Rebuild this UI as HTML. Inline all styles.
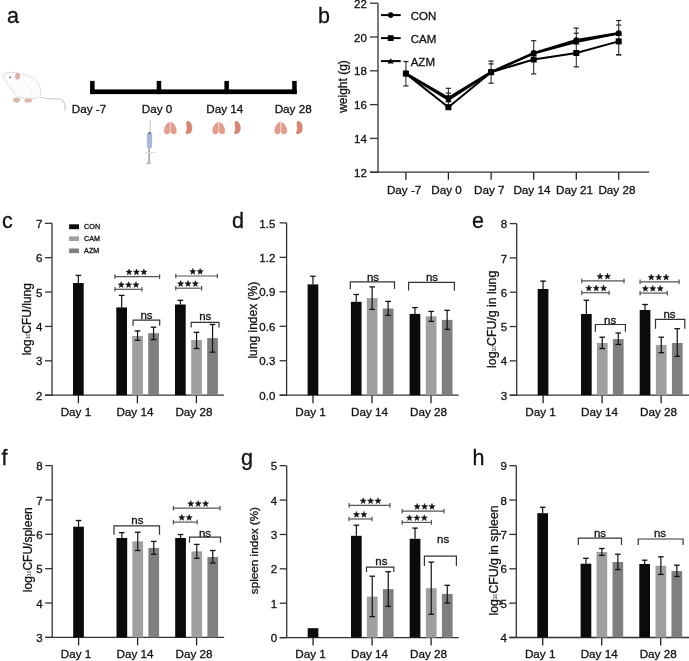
<!DOCTYPE html>
<html><head><meta charset="utf-8"><style>
html,body{margin:0;padding:0;background:#fff;overflow:hidden;width:689px;height:661px;}
svg{display:block;font-family:"Liberation Sans", sans-serif;will-change:transform;} text{fill:#111;stroke:#111;stroke-width:0.3px;paint-order:stroke;}
</style></head><body>
<svg width="689" height="661" viewBox="0 0 689 661">
<rect width="689" height="661" fill="#fff"/>
<text x="2.00" y="227.50" font-size="21.5" text-anchor="start" fill="#000" >c</text>
<line x1="52.00" y1="223.30" x2="52.00" y2="395.70" stroke="#333" stroke-width="1.3" />
<line x1="45.00" y1="395.20" x2="224.00" y2="395.20" stroke="#333" stroke-width="1.3" />
<line x1="45.00" y1="223.30" x2="52.00" y2="223.30" stroke="#333" stroke-width="1.3" />
<text x="42.50" y="227.90" font-size="11.5" text-anchor="end" fill="#222" >7</text>
<line x1="45.00" y1="257.68" x2="52.00" y2="257.68" stroke="#333" stroke-width="1.3" />
<text x="42.50" y="262.28" font-size="11.5" text-anchor="end" fill="#222" >6</text>
<line x1="45.00" y1="292.06" x2="52.00" y2="292.06" stroke="#333" stroke-width="1.3" />
<text x="42.50" y="296.66" font-size="11.5" text-anchor="end" fill="#222" >5</text>
<line x1="45.00" y1="326.44" x2="52.00" y2="326.44" stroke="#333" stroke-width="1.3" />
<text x="42.50" y="331.04" font-size="11.5" text-anchor="end" fill="#222" >4</text>
<line x1="45.00" y1="360.82" x2="52.00" y2="360.82" stroke="#333" stroke-width="1.3" />
<text x="42.50" y="365.42" font-size="11.5" text-anchor="end" fill="#222" >3</text>
<line x1="45.00" y1="395.20" x2="52.00" y2="395.20" stroke="#333" stroke-width="1.3" />
<text x="42.50" y="399.80" font-size="11.5" text-anchor="end" fill="#222" >2</text>
<line x1="78.40" y1="395.20" x2="78.40" y2="403.20" stroke="#222" stroke-width="1.3" />
<text x="75.90" y="416.00" font-size="11.7" text-anchor="middle" fill="#222" >Day 1</text>
<line x1="137.40" y1="395.20" x2="137.40" y2="403.20" stroke="#222" stroke-width="1.3" />
<text x="134.90" y="416.00" font-size="11.7" text-anchor="middle" fill="#222" >Day 14</text>
<line x1="196.40" y1="395.20" x2="196.40" y2="403.20" stroke="#222" stroke-width="1.3" />
<text x="193.90" y="416.00" font-size="11.7" text-anchor="middle" fill="#222" >Day 28</text>
<rect x="73.00" y="283.00" width="10.70" height="112.20" fill="#0b0b0b"/>
<line x1="78.35" y1="275.40" x2="78.35" y2="283.00" stroke="#111" stroke-width="1.2" />
<line x1="75.55" y1="275.40" x2="81.15" y2="275.40" stroke="#111" stroke-width="1.3" />
<rect x="116.30" y="307.40" width="10.70" height="87.80" fill="#0b0b0b"/>
<line x1="121.65" y1="295.40" x2="121.65" y2="307.40" stroke="#111" stroke-width="1.2" />
<line x1="118.85" y1="295.40" x2="124.45" y2="295.40" stroke="#111" stroke-width="1.3" />
<rect x="132.20" y="336.00" width="10.70" height="59.20" fill="#9f9f9f"/>
<line x1="137.55" y1="330.90" x2="137.55" y2="340.30" stroke="#111" stroke-width="1.2" />
<line x1="134.75" y1="330.90" x2="140.35" y2="330.90" stroke="#111" stroke-width="1.3" />
<line x1="134.75" y1="340.30" x2="140.35" y2="340.30" stroke="#111" stroke-width="1.3" />
<rect x="148.20" y="333.20" width="10.70" height="62.00" fill="#7f7f7f"/>
<line x1="153.55" y1="327.20" x2="153.55" y2="339.60" stroke="#111" stroke-width="1.2" />
<line x1="150.75" y1="327.20" x2="156.35" y2="327.20" stroke="#111" stroke-width="1.3" />
<line x1="150.75" y1="339.60" x2="156.35" y2="339.60" stroke="#111" stroke-width="1.3" />
<rect x="175.00" y="304.50" width="10.70" height="90.70" fill="#0b0b0b"/>
<line x1="180.35" y1="300.30" x2="180.35" y2="304.50" stroke="#111" stroke-width="1.2" />
<line x1="177.55" y1="300.30" x2="183.15" y2="300.30" stroke="#111" stroke-width="1.3" />
<rect x="191.20" y="340.00" width="10.70" height="55.20" fill="#9f9f9f"/>
<line x1="196.55" y1="332.30" x2="196.55" y2="348.50" stroke="#111" stroke-width="1.2" />
<line x1="193.75" y1="332.30" x2="199.35" y2="332.30" stroke="#111" stroke-width="1.3" />
<line x1="193.75" y1="348.50" x2="199.35" y2="348.50" stroke="#111" stroke-width="1.3" />
<rect x="207.20" y="338.10" width="10.70" height="57.10" fill="#7f7f7f"/>
<line x1="212.55" y1="324.50" x2="212.55" y2="352.10" stroke="#111" stroke-width="1.2" />
<line x1="209.75" y1="324.50" x2="215.35" y2="324.50" stroke="#111" stroke-width="1.3" />
<line x1="209.75" y1="352.10" x2="215.35" y2="352.10" stroke="#111" stroke-width="1.3" />
<text x="0" y="0" font-size="12" text-anchor="middle" fill="#222" transform="translate(31.00,319.20) rotate(-90)">log<tspan font-size="5" dy="-0.6" style="stroke-width:0">10</tspan><tspan dy="0.6">CFU/lung</tspan></text>
<line x1="114.50" y1="276.60" x2="160.10" y2="276.60" stroke="#555" stroke-width="1.2" />
<line x1="115.00" y1="274.30" x2="115.00" y2="278.90" stroke="#555" stroke-width="1.2" />
<line x1="159.60" y1="274.30" x2="159.60" y2="278.90" stroke="#555" stroke-width="1.2" />
<polygon points="129.10,269.00 129.89,271.11 132.14,271.21 130.38,272.62 130.98,274.79 129.10,273.55 127.22,274.79 127.82,272.62 126.06,271.21 128.31,271.11" fill="#111" stroke="#111" stroke-width="0.5" stroke-linejoin="round"/>
<polygon points="136.50,269.00 137.29,271.11 139.54,271.21 137.78,272.62 138.38,274.79 136.50,273.55 134.62,274.79 135.22,272.62 133.46,271.21 135.71,271.11" fill="#111" stroke="#111" stroke-width="0.5" stroke-linejoin="round"/>
<polygon points="143.90,269.00 144.69,271.11 146.94,271.21 145.18,272.62 145.78,274.79 143.90,273.55 142.02,274.79 142.62,272.62 140.86,271.21 143.11,271.11" fill="#111" stroke="#111" stroke-width="0.5" stroke-linejoin="round"/>
<line x1="114.50" y1="289.30" x2="142.40" y2="289.30" stroke="#555" stroke-width="1.2" />
<line x1="115.00" y1="287.00" x2="115.00" y2="291.60" stroke="#555" stroke-width="1.2" />
<line x1="141.90" y1="287.00" x2="141.90" y2="291.60" stroke="#555" stroke-width="1.2" />
<polygon points="121.20,281.70 121.99,283.81 124.24,283.91 122.48,285.32 123.08,287.49 121.20,286.25 119.32,287.49 119.92,285.32 118.16,283.91 120.41,283.81" fill="#111" stroke="#111" stroke-width="0.5" stroke-linejoin="round"/>
<polygon points="128.60,281.70 129.39,283.81 131.64,283.91 129.88,285.32 130.48,287.49 128.60,286.25 126.72,287.49 127.32,285.32 125.56,283.91 127.81,283.81" fill="#111" stroke="#111" stroke-width="0.5" stroke-linejoin="round"/>
<polygon points="136.00,281.70 136.79,283.81 139.04,283.91 137.28,285.32 137.88,287.49 136.00,286.25 134.12,287.49 134.72,285.32 132.96,283.91 135.21,283.81" fill="#111" stroke="#111" stroke-width="0.5" stroke-linejoin="round"/>
<path d="M133.10,325.80 V320.10 H159.70 V325.80" fill="none" stroke="#333" stroke-width="1.2"/>
<text x="146.50" y="318.50" font-size="11.5" text-anchor="middle" fill="#222" >ns</text>
<line x1="175.30" y1="276.00" x2="217.80" y2="276.00" stroke="#555" stroke-width="1.2" />
<line x1="175.80" y1="273.70" x2="175.80" y2="278.30" stroke="#555" stroke-width="1.2" />
<line x1="217.30" y1="273.70" x2="217.30" y2="278.30" stroke="#555" stroke-width="1.2" />
<polygon points="192.80,268.40 193.59,270.51 195.84,270.61 194.08,272.02 194.68,274.19 192.80,272.95 190.92,274.19 191.52,272.02 189.76,270.61 192.01,270.51" fill="#111" stroke="#111" stroke-width="0.5" stroke-linejoin="round"/>
<polygon points="200.20,268.40 200.99,270.51 203.24,270.61 201.48,272.02 202.08,274.19 200.20,272.95 198.32,274.19 198.92,272.02 197.16,270.61 199.41,270.51" fill="#111" stroke="#111" stroke-width="0.5" stroke-linejoin="round"/>
<line x1="175.30" y1="288.20" x2="202.10" y2="288.20" stroke="#555" stroke-width="1.2" />
<line x1="175.80" y1="285.90" x2="175.80" y2="290.50" stroke="#555" stroke-width="1.2" />
<line x1="201.60" y1="285.90" x2="201.60" y2="290.50" stroke="#555" stroke-width="1.2" />
<polygon points="180.60,280.60 181.39,282.71 183.64,282.81 181.88,284.22 182.48,286.39 180.60,285.15 178.72,286.39 179.32,284.22 177.56,282.81 179.81,282.71" fill="#111" stroke="#111" stroke-width="0.5" stroke-linejoin="round"/>
<polygon points="188.00,280.60 188.79,282.71 191.04,282.81 189.28,284.22 189.88,286.39 188.00,285.15 186.12,286.39 186.72,284.22 184.96,282.81 187.21,282.71" fill="#111" stroke="#111" stroke-width="0.5" stroke-linejoin="round"/>
<polygon points="195.40,280.60 196.19,282.71 198.44,282.81 196.68,284.22 197.28,286.39 195.40,285.15 193.52,286.39 194.12,284.22 192.36,282.81 194.61,282.71" fill="#111" stroke="#111" stroke-width="0.5" stroke-linejoin="round"/>
<path d="M191.20,327.60 V322.30 H219.00 V327.60" fill="none" stroke="#333" stroke-width="1.2"/>
<text x="205.30" y="320.30" font-size="11.5" text-anchor="middle" fill="#222" >ns</text>
<rect x="69.10" y="224.30" width="9.90" height="4.90" fill="#0b0b0b"/>
<text x="84.10" y="229.40" font-size="7.2" text-anchor="start" fill="#222" >CON</text>
<rect x="69.10" y="236.40" width="9.90" height="4.60" fill="#9f9f9f"/>
<text x="84.10" y="241.40" font-size="7.2" text-anchor="start" fill="#222" >CAM</text>
<rect x="69.10" y="248.50" width="9.90" height="4.60" fill="#7f7f7f"/>
<text x="84.10" y="253.30" font-size="7.2" text-anchor="start" fill="#222" >AZM</text>
<text x="232.00" y="227.70" font-size="21.5" text-anchor="start" fill="#000" >d</text>
<line x1="286.60" y1="222.90" x2="286.60" y2="395.70" stroke="#333" stroke-width="1.3" />
<line x1="279.60" y1="395.20" x2="458.60" y2="395.20" stroke="#333" stroke-width="1.3" />
<line x1="279.60" y1="222.90" x2="286.60" y2="222.90" stroke="#333" stroke-width="1.3" />
<text x="275.30" y="227.50" font-size="11.5" text-anchor="end" fill="#222" >1.5</text>
<line x1="279.60" y1="257.36" x2="286.60" y2="257.36" stroke="#333" stroke-width="1.3" />
<text x="275.30" y="261.96" font-size="11.5" text-anchor="end" fill="#222" >1.2</text>
<line x1="279.60" y1="291.82" x2="286.60" y2="291.82" stroke="#333" stroke-width="1.3" />
<text x="275.30" y="296.42" font-size="11.5" text-anchor="end" fill="#222" >0.9</text>
<line x1="279.60" y1="326.28" x2="286.60" y2="326.28" stroke="#333" stroke-width="1.3" />
<text x="275.30" y="330.88" font-size="11.5" text-anchor="end" fill="#222" >0.6</text>
<line x1="279.60" y1="360.74" x2="286.60" y2="360.74" stroke="#333" stroke-width="1.3" />
<text x="275.30" y="365.34" font-size="11.5" text-anchor="end" fill="#222" >0.3</text>
<line x1="279.60" y1="395.20" x2="286.60" y2="395.20" stroke="#333" stroke-width="1.3" />
<text x="275.30" y="399.80" font-size="11.5" text-anchor="end" fill="#222" >0.0</text>
<line x1="313.00" y1="395.20" x2="313.00" y2="403.20" stroke="#222" stroke-width="1.3" />
<text x="310.50" y="416.00" font-size="11.7" text-anchor="middle" fill="#222" >Day 1</text>
<line x1="372.00" y1="395.20" x2="372.00" y2="403.20" stroke="#222" stroke-width="1.3" />
<text x="369.50" y="416.00" font-size="11.7" text-anchor="middle" fill="#222" >Day 14</text>
<line x1="431.00" y1="395.20" x2="431.00" y2="403.20" stroke="#222" stroke-width="1.3" />
<text x="428.50" y="416.00" font-size="11.7" text-anchor="middle" fill="#222" >Day 28</text>
<rect x="307.60" y="284.40" width="10.70" height="110.80" fill="#0b0b0b"/>
<line x1="312.95" y1="276.30" x2="312.95" y2="284.40" stroke="#111" stroke-width="1.2" />
<line x1="310.15" y1="276.30" x2="315.75" y2="276.30" stroke="#111" stroke-width="1.3" />
<rect x="350.90" y="301.80" width="10.70" height="93.40" fill="#0b0b0b"/>
<line x1="356.25" y1="294.50" x2="356.25" y2="301.80" stroke="#111" stroke-width="1.2" />
<line x1="353.45" y1="294.50" x2="359.05" y2="294.50" stroke="#111" stroke-width="1.3" />
<rect x="366.80" y="298.10" width="10.70" height="97.10" fill="#9f9f9f"/>
<line x1="372.15" y1="286.90" x2="372.15" y2="309.40" stroke="#111" stroke-width="1.2" />
<line x1="369.35" y1="286.90" x2="374.95" y2="286.90" stroke="#111" stroke-width="1.3" />
<line x1="369.35" y1="309.40" x2="374.95" y2="309.40" stroke="#111" stroke-width="1.3" />
<rect x="382.80" y="308.50" width="10.70" height="86.70" fill="#7f7f7f"/>
<line x1="388.15" y1="301.40" x2="388.15" y2="315.40" stroke="#111" stroke-width="1.2" />
<line x1="385.35" y1="301.40" x2="390.95" y2="301.40" stroke="#111" stroke-width="1.3" />
<line x1="385.35" y1="315.40" x2="390.95" y2="315.40" stroke="#111" stroke-width="1.3" />
<rect x="409.60" y="313.90" width="10.70" height="81.30" fill="#0b0b0b"/>
<line x1="414.95" y1="307.60" x2="414.95" y2="313.90" stroke="#111" stroke-width="1.2" />
<line x1="412.15" y1="307.60" x2="417.75" y2="307.60" stroke="#111" stroke-width="1.3" />
<rect x="425.80" y="316.30" width="10.70" height="78.90" fill="#9f9f9f"/>
<line x1="431.15" y1="311.40" x2="431.15" y2="321.40" stroke="#111" stroke-width="1.2" />
<line x1="428.35" y1="311.40" x2="433.95" y2="311.40" stroke="#111" stroke-width="1.3" />
<line x1="428.35" y1="321.40" x2="433.95" y2="321.40" stroke="#111" stroke-width="1.3" />
<rect x="441.80" y="319.90" width="10.70" height="75.30" fill="#7f7f7f"/>
<line x1="447.15" y1="310.30" x2="447.15" y2="329.40" stroke="#111" stroke-width="1.2" />
<line x1="444.35" y1="310.30" x2="449.95" y2="310.30" stroke="#111" stroke-width="1.3" />
<line x1="444.35" y1="329.40" x2="449.95" y2="329.40" stroke="#111" stroke-width="1.3" />
<text x="0" y="0" font-size="12" text-anchor="middle" fill="#222" transform="translate(257.00,320.20) rotate(-90)">lung index (%)</text>
<path d="M350.30,289.00 V281.80 H394.50 V289.00" fill="none" stroke="#333" stroke-width="1.2"/>
<text x="373.00" y="280.90" font-size="11.5" text-anchor="middle" fill="#222" >ns</text>
<path d="M408.60,290.50 V282.30 H454.40 V290.50" fill="none" stroke="#333" stroke-width="1.2"/>
<text x="432.00" y="280.90" font-size="11.5" text-anchor="middle" fill="#222" >ns</text>
<text x="472.00" y="227.50" font-size="21.5" text-anchor="start" fill="#000" >e</text>
<line x1="516.70" y1="223.60" x2="516.70" y2="395.70" stroke="#333" stroke-width="1.3" />
<line x1="509.70" y1="395.20" x2="689.00" y2="395.20" stroke="#333" stroke-width="1.3" />
<line x1="509.70" y1="223.60" x2="516.70" y2="223.60" stroke="#333" stroke-width="1.3" />
<text x="507.20" y="228.20" font-size="11.5" text-anchor="end" fill="#222" >8</text>
<line x1="509.70" y1="257.92" x2="516.70" y2="257.92" stroke="#333" stroke-width="1.3" />
<text x="507.20" y="262.52" font-size="11.5" text-anchor="end" fill="#222" >7</text>
<line x1="509.70" y1="292.24" x2="516.70" y2="292.24" stroke="#333" stroke-width="1.3" />
<text x="507.20" y="296.84" font-size="11.5" text-anchor="end" fill="#222" >6</text>
<line x1="509.70" y1="326.56" x2="516.70" y2="326.56" stroke="#333" stroke-width="1.3" />
<text x="507.20" y="331.16" font-size="11.5" text-anchor="end" fill="#222" >5</text>
<line x1="509.70" y1="360.88" x2="516.70" y2="360.88" stroke="#333" stroke-width="1.3" />
<text x="507.20" y="365.48" font-size="11.5" text-anchor="end" fill="#222" >4</text>
<line x1="509.70" y1="395.20" x2="516.70" y2="395.20" stroke="#333" stroke-width="1.3" />
<text x="507.20" y="399.80" font-size="11.5" text-anchor="end" fill="#222" >3</text>
<line x1="543.10" y1="395.20" x2="543.10" y2="403.20" stroke="#222" stroke-width="1.3" />
<text x="540.60" y="416.00" font-size="11.7" text-anchor="middle" fill="#222" >Day 1</text>
<line x1="602.10" y1="395.20" x2="602.10" y2="403.20" stroke="#222" stroke-width="1.3" />
<text x="599.60" y="416.00" font-size="11.7" text-anchor="middle" fill="#222" >Day 14</text>
<line x1="661.10" y1="395.20" x2="661.10" y2="403.20" stroke="#222" stroke-width="1.3" />
<text x="658.60" y="416.00" font-size="11.7" text-anchor="middle" fill="#222" >Day 28</text>
<rect x="537.70" y="289.00" width="10.70" height="106.20" fill="#0b0b0b"/>
<line x1="543.05" y1="281.10" x2="543.05" y2="289.00" stroke="#111" stroke-width="1.2" />
<line x1="540.25" y1="281.10" x2="545.85" y2="281.10" stroke="#111" stroke-width="1.3" />
<rect x="581.00" y="314.00" width="10.70" height="81.20" fill="#0b0b0b"/>
<line x1="586.35" y1="300.30" x2="586.35" y2="314.00" stroke="#111" stroke-width="1.2" />
<line x1="583.55" y1="300.30" x2="589.15" y2="300.30" stroke="#111" stroke-width="1.3" />
<rect x="596.90" y="343.00" width="10.70" height="52.20" fill="#9f9f9f"/>
<line x1="602.25" y1="337.20" x2="602.25" y2="348.50" stroke="#111" stroke-width="1.2" />
<line x1="599.45" y1="337.20" x2="605.05" y2="337.20" stroke="#111" stroke-width="1.3" />
<line x1="599.45" y1="348.50" x2="605.05" y2="348.50" stroke="#111" stroke-width="1.3" />
<rect x="612.90" y="339.10" width="10.70" height="56.10" fill="#7f7f7f"/>
<line x1="618.25" y1="333.00" x2="618.25" y2="344.50" stroke="#111" stroke-width="1.2" />
<line x1="615.45" y1="333.00" x2="621.05" y2="333.00" stroke="#111" stroke-width="1.3" />
<line x1="615.45" y1="344.50" x2="621.05" y2="344.50" stroke="#111" stroke-width="1.3" />
<rect x="639.70" y="310.00" width="10.70" height="85.20" fill="#0b0b0b"/>
<line x1="645.05" y1="304.50" x2="645.05" y2="310.00" stroke="#111" stroke-width="1.2" />
<line x1="642.25" y1="304.50" x2="647.85" y2="304.50" stroke="#111" stroke-width="1.3" />
<rect x="655.90" y="344.90" width="10.70" height="50.30" fill="#9f9f9f"/>
<line x1="661.25" y1="337.20" x2="661.25" y2="352.70" stroke="#111" stroke-width="1.2" />
<line x1="658.45" y1="337.20" x2="664.05" y2="337.20" stroke="#111" stroke-width="1.3" />
<line x1="658.45" y1="352.70" x2="664.05" y2="352.70" stroke="#111" stroke-width="1.3" />
<rect x="671.90" y="343.00" width="10.70" height="52.20" fill="#7f7f7f"/>
<line x1="677.25" y1="328.70" x2="677.25" y2="356.30" stroke="#111" stroke-width="1.2" />
<line x1="674.45" y1="328.70" x2="680.05" y2="328.70" stroke="#111" stroke-width="1.3" />
<line x1="674.45" y1="356.30" x2="680.05" y2="356.30" stroke="#111" stroke-width="1.3" />
<text x="0" y="0" font-size="12.3" text-anchor="middle" fill="#222" transform="translate(496.30,319.30) rotate(-90)">log<tspan font-size="5" dy="-0.6" style="stroke-width:0">10</tspan><tspan dy="0.6">CFU/g in lung</tspan></text>
<line x1="581.30" y1="280.90" x2="624.50" y2="280.90" stroke="#555" stroke-width="1.2" />
<line x1="581.80" y1="278.60" x2="581.80" y2="283.20" stroke="#555" stroke-width="1.2" />
<line x1="624.00" y1="278.60" x2="624.00" y2="283.20" stroke="#555" stroke-width="1.2" />
<polygon points="600.10,273.30 600.89,275.41 603.14,275.51 601.38,276.92 601.98,279.09 600.10,277.85 598.22,279.09 598.82,276.92 597.06,275.51 599.31,275.41" fill="#111" stroke="#111" stroke-width="0.5" stroke-linejoin="round"/>
<polygon points="607.50,273.30 608.29,275.41 610.54,275.51 608.78,276.92 609.38,279.09 607.50,277.85 605.62,279.09 606.22,276.92 604.46,275.51 606.71,275.41" fill="#111" stroke="#111" stroke-width="0.5" stroke-linejoin="round"/>
<line x1="581.30" y1="292.70" x2="609.60" y2="292.70" stroke="#555" stroke-width="1.2" />
<line x1="581.80" y1="290.40" x2="581.80" y2="295.00" stroke="#555" stroke-width="1.2" />
<line x1="609.10" y1="290.40" x2="609.10" y2="295.00" stroke="#555" stroke-width="1.2" />
<polygon points="588.80,285.10 589.59,287.21 591.84,287.31 590.08,288.72 590.68,290.89 588.80,289.65 586.92,290.89 587.52,288.72 585.76,287.31 588.01,287.21" fill="#111" stroke="#111" stroke-width="0.5" stroke-linejoin="round"/>
<polygon points="596.20,285.10 596.99,287.21 599.24,287.31 597.48,288.72 598.08,290.89 596.20,289.65 594.32,290.89 594.92,288.72 593.16,287.31 595.41,287.21" fill="#111" stroke="#111" stroke-width="0.5" stroke-linejoin="round"/>
<polygon points="603.60,285.10 604.39,287.21 606.64,287.31 604.88,288.72 605.48,290.89 603.60,289.65 601.72,290.89 602.32,288.72 600.56,287.31 602.81,287.21" fill="#111" stroke="#111" stroke-width="0.5" stroke-linejoin="round"/>
<path d="M595.40,331.80 V324.50 H625.40 V331.80" fill="none" stroke="#333" stroke-width="1.2"/>
<text x="610.20" y="323.60" font-size="11.5" text-anchor="middle" fill="#222" >ns</text>
<line x1="639.60" y1="281.80" x2="679.60" y2="281.80" stroke="#555" stroke-width="1.2" />
<line x1="640.10" y1="279.50" x2="640.10" y2="284.10" stroke="#555" stroke-width="1.2" />
<line x1="679.10" y1="279.50" x2="679.10" y2="284.10" stroke="#555" stroke-width="1.2" />
<polygon points="651.30,274.20 652.09,276.31 654.34,276.41 652.58,277.82 653.18,279.99 651.30,278.75 649.42,279.99 650.02,277.82 648.26,276.41 650.51,276.31" fill="#111" stroke="#111" stroke-width="0.5" stroke-linejoin="round"/>
<polygon points="658.70,274.20 659.49,276.31 661.74,276.41 659.98,277.82 660.58,279.99 658.70,278.75 656.82,279.99 657.42,277.82 655.66,276.41 657.91,276.31" fill="#111" stroke="#111" stroke-width="0.5" stroke-linejoin="round"/>
<polygon points="666.10,274.20 666.89,276.31 669.14,276.41 667.38,277.82 667.98,279.99 666.10,278.75 664.22,279.99 664.82,277.82 663.06,276.41 665.31,276.31" fill="#111" stroke="#111" stroke-width="0.5" stroke-linejoin="round"/>
<line x1="639.60" y1="293.10" x2="667.80" y2="293.10" stroke="#555" stroke-width="1.2" />
<line x1="640.10" y1="290.80" x2="640.10" y2="295.40" stroke="#555" stroke-width="1.2" />
<line x1="667.30" y1="290.80" x2="667.30" y2="295.40" stroke="#555" stroke-width="1.2" />
<polygon points="645.40,285.50 646.19,287.61 648.44,287.71 646.68,289.12 647.28,291.29 645.40,290.05 643.52,291.29 644.12,289.12 642.36,287.71 644.61,287.61" fill="#111" stroke="#111" stroke-width="0.5" stroke-linejoin="round"/>
<polygon points="652.80,285.50 653.59,287.61 655.84,287.71 654.08,289.12 654.68,291.29 652.80,290.05 650.92,291.29 651.52,289.12 649.76,287.71 652.01,287.61" fill="#111" stroke="#111" stroke-width="0.5" stroke-linejoin="round"/>
<polygon points="660.20,285.50 660.99,287.61 663.24,287.71 661.48,289.12 662.08,291.29 660.20,290.05 658.32,291.29 658.92,289.12 657.16,287.71 659.41,287.61" fill="#111" stroke="#111" stroke-width="0.5" stroke-linejoin="round"/>
<path d="M655.50,328.70 V319.40 H684.80 V328.70" fill="none" stroke="#333" stroke-width="1.2"/>
<text x="669.50" y="317.80" font-size="11.5" text-anchor="middle" fill="#222" >ns</text>
<text x="1.50" y="464.70" font-size="21.5" text-anchor="start" fill="#000" >f</text>
<line x1="52.20" y1="465.60" x2="52.20" y2="637.90" stroke="#333" stroke-width="1.3" />
<line x1="45.20" y1="637.40" x2="224.20" y2="637.40" stroke="#333" stroke-width="1.3" />
<line x1="45.20" y1="465.60" x2="52.20" y2="465.60" stroke="#333" stroke-width="1.3" />
<text x="42.70" y="470.20" font-size="11.5" text-anchor="end" fill="#222" >8</text>
<line x1="45.20" y1="499.96" x2="52.20" y2="499.96" stroke="#333" stroke-width="1.3" />
<text x="42.70" y="504.56" font-size="11.5" text-anchor="end" fill="#222" >7</text>
<line x1="45.20" y1="534.32" x2="52.20" y2="534.32" stroke="#333" stroke-width="1.3" />
<text x="42.70" y="538.92" font-size="11.5" text-anchor="end" fill="#222" >6</text>
<line x1="45.20" y1="568.68" x2="52.20" y2="568.68" stroke="#333" stroke-width="1.3" />
<text x="42.70" y="573.28" font-size="11.5" text-anchor="end" fill="#222" >5</text>
<line x1="45.20" y1="603.04" x2="52.20" y2="603.04" stroke="#333" stroke-width="1.3" />
<text x="42.70" y="607.64" font-size="11.5" text-anchor="end" fill="#222" >4</text>
<line x1="45.20" y1="637.40" x2="52.20" y2="637.40" stroke="#333" stroke-width="1.3" />
<text x="42.70" y="642.00" font-size="11.5" text-anchor="end" fill="#222" >3</text>
<line x1="78.60" y1="637.40" x2="78.60" y2="645.40" stroke="#222" stroke-width="1.3" />
<text x="76.10" y="658.20" font-size="11.7" text-anchor="middle" fill="#222" >Day 1</text>
<line x1="137.60" y1="637.40" x2="137.60" y2="645.40" stroke="#222" stroke-width="1.3" />
<text x="135.10" y="658.20" font-size="11.7" text-anchor="middle" fill="#222" >Day 14</text>
<line x1="196.60" y1="637.40" x2="196.60" y2="645.40" stroke="#222" stroke-width="1.3" />
<text x="194.10" y="658.20" font-size="11.7" text-anchor="middle" fill="#222" >Day 28</text>
<rect x="73.20" y="526.70" width="10.70" height="110.70" fill="#0b0b0b"/>
<line x1="78.55" y1="520.50" x2="78.55" y2="526.70" stroke="#111" stroke-width="1.2" />
<line x1="75.75" y1="520.50" x2="81.35" y2="520.50" stroke="#111" stroke-width="1.3" />
<rect x="116.50" y="538.00" width="10.70" height="99.40" fill="#0b0b0b"/>
<line x1="121.85" y1="532.60" x2="121.85" y2="538.00" stroke="#111" stroke-width="1.2" />
<line x1="119.05" y1="532.60" x2="124.65" y2="532.60" stroke="#111" stroke-width="1.3" />
<rect x="132.40" y="541.30" width="10.70" height="96.10" fill="#9f9f9f"/>
<line x1="137.75" y1="532.20" x2="137.75" y2="550.50" stroke="#111" stroke-width="1.2" />
<line x1="134.95" y1="532.20" x2="140.55" y2="532.20" stroke="#111" stroke-width="1.3" />
<line x1="134.95" y1="550.50" x2="140.55" y2="550.50" stroke="#111" stroke-width="1.3" />
<rect x="148.40" y="547.90" width="10.70" height="89.50" fill="#7f7f7f"/>
<line x1="153.75" y1="541.40" x2="153.75" y2="554.30" stroke="#111" stroke-width="1.2" />
<line x1="150.95" y1="541.40" x2="156.55" y2="541.40" stroke="#111" stroke-width="1.3" />
<line x1="150.95" y1="554.30" x2="156.55" y2="554.30" stroke="#111" stroke-width="1.3" />
<rect x="175.20" y="538.00" width="10.70" height="99.40" fill="#0b0b0b"/>
<line x1="180.55" y1="534.50" x2="180.55" y2="538.00" stroke="#111" stroke-width="1.2" />
<line x1="177.75" y1="534.50" x2="183.35" y2="534.50" stroke="#111" stroke-width="1.3" />
<rect x="191.40" y="551.40" width="10.70" height="86.00" fill="#9f9f9f"/>
<line x1="196.75" y1="544.40" x2="196.75" y2="558.30" stroke="#111" stroke-width="1.2" />
<line x1="193.95" y1="544.40" x2="199.55" y2="544.40" stroke="#111" stroke-width="1.3" />
<line x1="193.95" y1="558.30" x2="199.55" y2="558.30" stroke="#111" stroke-width="1.3" />
<rect x="207.40" y="557.00" width="10.70" height="80.40" fill="#7f7f7f"/>
<line x1="212.75" y1="550.50" x2="212.75" y2="563.00" stroke="#111" stroke-width="1.2" />
<line x1="209.95" y1="550.50" x2="215.55" y2="550.50" stroke="#111" stroke-width="1.3" />
<line x1="209.95" y1="563.00" x2="215.55" y2="563.00" stroke="#111" stroke-width="1.3" />
<text x="0" y="0" font-size="12" text-anchor="middle" fill="#222" transform="translate(31.50,549.70) rotate(-90)">log<tspan font-size="5" dy="-0.6" style="stroke-width:0">10</tspan><tspan dy="0.6">CFU/spleen</tspan></text>
<path d="M114.00,534.80 V525.80 H159.50 V534.80" fill="none" stroke="#333" stroke-width="1.2"/>
<text x="137.40" y="523.50" font-size="11.5" text-anchor="middle" fill="#222" >ns</text>
<line x1="172.90" y1="508.20" x2="220.50" y2="508.20" stroke="#555" stroke-width="1.2" />
<line x1="173.40" y1="505.90" x2="173.40" y2="510.50" stroke="#555" stroke-width="1.2" />
<line x1="220.00" y1="505.90" x2="220.00" y2="510.50" stroke="#555" stroke-width="1.2" />
<polygon points="190.80,500.60 191.59,502.71 193.84,502.81 192.08,504.22 192.68,506.39 190.80,505.15 188.92,506.39 189.52,504.22 187.76,502.81 190.01,502.71" fill="#111" stroke="#111" stroke-width="0.5" stroke-linejoin="round"/>
<polygon points="198.20,500.60 198.99,502.71 201.24,502.81 199.48,504.22 200.08,506.39 198.20,505.15 196.32,506.39 196.92,504.22 195.16,502.81 197.41,502.71" fill="#111" stroke="#111" stroke-width="0.5" stroke-linejoin="round"/>
<polygon points="205.60,500.60 206.39,502.71 208.64,502.81 206.88,504.22 207.48,506.39 205.60,505.15 203.72,506.39 204.32,504.22 202.56,502.81 204.81,502.71" fill="#111" stroke="#111" stroke-width="0.5" stroke-linejoin="round"/>
<line x1="172.90" y1="522.10" x2="197.60" y2="522.10" stroke="#555" stroke-width="1.2" />
<line x1="173.40" y1="519.80" x2="173.40" y2="524.40" stroke="#555" stroke-width="1.2" />
<line x1="197.10" y1="519.80" x2="197.10" y2="524.40" stroke="#555" stroke-width="1.2" />
<polygon points="181.80,514.50 182.59,516.61 184.84,516.71 183.08,518.12 183.68,520.29 181.80,519.05 179.92,520.29 180.52,518.12 178.76,516.71 181.01,516.61" fill="#111" stroke="#111" stroke-width="0.5" stroke-linejoin="round"/>
<polygon points="189.20,514.50 189.99,516.61 192.24,516.71 190.48,518.12 191.08,520.29 189.20,519.05 187.32,520.29 187.92,518.12 186.16,516.71 188.41,516.61" fill="#111" stroke="#111" stroke-width="0.5" stroke-linejoin="round"/>
<path d="M189.50,542.70 V537.10 H220.50 V542.70" fill="none" stroke="#333" stroke-width="1.2"/>
<text x="205.00" y="536.60" font-size="11.5" text-anchor="middle" fill="#222" >ns</text>
<text x="241.00" y="464.70" font-size="21.5" text-anchor="start" fill="#000" >g</text>
<line x1="286.70" y1="465.70" x2="286.70" y2="638.10" stroke="#333" stroke-width="1.3" />
<line x1="279.70" y1="637.60" x2="458.70" y2="637.60" stroke="#333" stroke-width="1.3" />
<line x1="279.70" y1="465.70" x2="286.70" y2="465.70" stroke="#333" stroke-width="1.3" />
<text x="277.20" y="470.30" font-size="11.5" text-anchor="end" fill="#222" >5</text>
<line x1="279.70" y1="500.08" x2="286.70" y2="500.08" stroke="#333" stroke-width="1.3" />
<text x="277.20" y="504.68" font-size="11.5" text-anchor="end" fill="#222" >4</text>
<line x1="279.70" y1="534.46" x2="286.70" y2="534.46" stroke="#333" stroke-width="1.3" />
<text x="277.20" y="539.06" font-size="11.5" text-anchor="end" fill="#222" >3</text>
<line x1="279.70" y1="568.84" x2="286.70" y2="568.84" stroke="#333" stroke-width="1.3" />
<text x="277.20" y="573.44" font-size="11.5" text-anchor="end" fill="#222" >2</text>
<line x1="279.70" y1="603.22" x2="286.70" y2="603.22" stroke="#333" stroke-width="1.3" />
<text x="277.20" y="607.82" font-size="11.5" text-anchor="end" fill="#222" >1</text>
<line x1="279.70" y1="637.60" x2="286.70" y2="637.60" stroke="#333" stroke-width="1.3" />
<text x="277.20" y="642.20" font-size="11.5" text-anchor="end" fill="#222" >0</text>
<line x1="313.10" y1="637.60" x2="313.10" y2="645.60" stroke="#222" stroke-width="1.3" />
<text x="310.60" y="658.40" font-size="11.7" text-anchor="middle" fill="#222" >Day 1</text>
<line x1="372.10" y1="637.60" x2="372.10" y2="645.60" stroke="#222" stroke-width="1.3" />
<text x="369.60" y="658.40" font-size="11.7" text-anchor="middle" fill="#222" >Day 14</text>
<line x1="431.10" y1="637.60" x2="431.10" y2="645.60" stroke="#222" stroke-width="1.3" />
<text x="428.60" y="658.40" font-size="11.7" text-anchor="middle" fill="#222" >Day 28</text>
<rect x="307.70" y="628.20" width="10.70" height="9.40" fill="#0b0b0b"/>
<rect x="351.00" y="535.80" width="10.70" height="101.80" fill="#0b0b0b"/>
<line x1="356.35" y1="525.20" x2="356.35" y2="535.80" stroke="#111" stroke-width="1.2" />
<line x1="353.55" y1="525.20" x2="359.15" y2="525.20" stroke="#111" stroke-width="1.3" />
<rect x="366.90" y="596.60" width="10.70" height="41.00" fill="#9f9f9f"/>
<line x1="372.25" y1="576.20" x2="372.25" y2="616.60" stroke="#111" stroke-width="1.2" />
<line x1="369.45" y1="576.20" x2="375.05" y2="576.20" stroke="#111" stroke-width="1.3" />
<line x1="369.45" y1="616.60" x2="375.05" y2="616.60" stroke="#111" stroke-width="1.3" />
<rect x="382.90" y="589.10" width="10.70" height="48.50" fill="#7f7f7f"/>
<line x1="388.25" y1="571.70" x2="388.25" y2="606.40" stroke="#111" stroke-width="1.2" />
<line x1="385.45" y1="571.70" x2="391.05" y2="571.70" stroke="#111" stroke-width="1.3" />
<line x1="385.45" y1="606.40" x2="391.05" y2="606.40" stroke="#111" stroke-width="1.3" />
<rect x="409.70" y="538.80" width="10.70" height="98.80" fill="#0b0b0b"/>
<line x1="415.05" y1="528.10" x2="415.05" y2="538.80" stroke="#111" stroke-width="1.2" />
<line x1="412.25" y1="528.10" x2="417.85" y2="528.10" stroke="#111" stroke-width="1.3" />
<rect x="425.90" y="588.20" width="10.70" height="49.40" fill="#9f9f9f"/>
<line x1="431.25" y1="562.10" x2="431.25" y2="614.30" stroke="#111" stroke-width="1.2" />
<line x1="428.45" y1="562.10" x2="434.05" y2="562.10" stroke="#111" stroke-width="1.3" />
<line x1="428.45" y1="614.30" x2="434.05" y2="614.30" stroke="#111" stroke-width="1.3" />
<rect x="441.90" y="593.90" width="10.70" height="43.70" fill="#7f7f7f"/>
<line x1="447.25" y1="585.30" x2="447.25" y2="603.00" stroke="#111" stroke-width="1.2" />
<line x1="444.45" y1="585.30" x2="450.05" y2="585.30" stroke="#111" stroke-width="1.3" />
<line x1="444.45" y1="603.00" x2="450.05" y2="603.00" stroke="#111" stroke-width="1.3" />
<text x="0" y="0" font-size="11.7" text-anchor="middle" fill="#222" transform="translate(258.30,550.60) rotate(-90)">spleen index (%)</text>
<line x1="348.60" y1="505.40" x2="390.40" y2="505.40" stroke="#555" stroke-width="1.2" />
<line x1="349.10" y1="503.10" x2="349.10" y2="507.70" stroke="#555" stroke-width="1.2" />
<line x1="389.90" y1="503.10" x2="389.90" y2="507.70" stroke="#555" stroke-width="1.2" />
<polygon points="363.20,497.80 363.99,499.91 366.24,500.01 364.48,501.42 365.08,503.59 363.20,502.35 361.32,503.59 361.92,501.42 360.16,500.01 362.41,499.91" fill="#111" stroke="#111" stroke-width="0.5" stroke-linejoin="round"/>
<polygon points="370.60,497.80 371.39,499.91 373.64,500.01 371.88,501.42 372.48,503.59 370.60,502.35 368.72,503.59 369.32,501.42 367.56,500.01 369.81,499.91" fill="#111" stroke="#111" stroke-width="0.5" stroke-linejoin="round"/>
<polygon points="378.00,497.80 378.79,499.91 381.04,500.01 379.28,501.42 379.88,503.59 378.00,502.35 376.12,503.59 376.72,501.42 374.96,500.01 377.21,499.91" fill="#111" stroke="#111" stroke-width="0.5" stroke-linejoin="round"/>
<line x1="348.60" y1="519.00" x2="372.40" y2="519.00" stroke="#555" stroke-width="1.2" />
<line x1="349.10" y1="516.70" x2="349.10" y2="521.30" stroke="#555" stroke-width="1.2" />
<line x1="371.90" y1="516.70" x2="371.90" y2="521.30" stroke="#555" stroke-width="1.2" />
<polygon points="356.50,511.40 357.29,513.51 359.54,513.61 357.78,515.02 358.38,517.19 356.50,515.95 354.62,517.19 355.22,515.02 353.46,513.61 355.71,513.51" fill="#111" stroke="#111" stroke-width="0.5" stroke-linejoin="round"/>
<polygon points="363.90,511.40 364.69,513.51 366.94,513.61 365.18,515.02 365.78,517.19 363.90,515.95 362.02,517.19 362.62,515.02 360.86,513.61 363.11,513.51" fill="#111" stroke="#111" stroke-width="0.5" stroke-linejoin="round"/>
<path d="M366.50,572.10 V567.10 H393.80 V572.10" fill="none" stroke="#333" stroke-width="1.2"/>
<text x="381.40" y="564.60" font-size="11.5" text-anchor="middle" fill="#222" >ns</text>
<line x1="401.70" y1="511.10" x2="444.40" y2="511.10" stroke="#555" stroke-width="1.2" />
<line x1="402.20" y1="508.80" x2="402.20" y2="513.40" stroke="#555" stroke-width="1.2" />
<line x1="443.90" y1="508.80" x2="443.90" y2="513.40" stroke="#555" stroke-width="1.2" />
<polygon points="417.20,503.50 417.99,505.61 420.24,505.71 418.48,507.12 419.08,509.29 417.20,508.05 415.32,509.29 415.92,507.12 414.16,505.71 416.41,505.61" fill="#111" stroke="#111" stroke-width="0.5" stroke-linejoin="round"/>
<polygon points="424.60,503.50 425.39,505.61 427.64,505.71 425.88,507.12 426.48,509.29 424.60,508.05 422.72,509.29 423.32,507.12 421.56,505.71 423.81,505.61" fill="#111" stroke="#111" stroke-width="0.5" stroke-linejoin="round"/>
<polygon points="432.00,503.50 432.79,505.61 435.04,505.71 433.28,507.12 433.88,509.29 432.00,508.05 430.12,509.29 430.72,507.12 428.96,505.71 431.21,505.61" fill="#111" stroke="#111" stroke-width="0.5" stroke-linejoin="round"/>
<line x1="401.70" y1="522.40" x2="431.90" y2="522.40" stroke="#555" stroke-width="1.2" />
<line x1="402.20" y1="520.10" x2="402.20" y2="524.70" stroke="#555" stroke-width="1.2" />
<line x1="431.40" y1="520.10" x2="431.40" y2="524.70" stroke="#555" stroke-width="1.2" />
<polygon points="409.50,514.80 410.29,516.91 412.54,517.01 410.78,518.42 411.38,520.59 409.50,519.35 407.62,520.59 408.22,518.42 406.46,517.01 408.71,516.91" fill="#111" stroke="#111" stroke-width="0.5" stroke-linejoin="round"/>
<polygon points="416.90,514.80 417.69,516.91 419.94,517.01 418.18,518.42 418.78,520.59 416.90,519.35 415.02,520.59 415.62,518.42 413.86,517.01 416.11,516.91" fill="#111" stroke="#111" stroke-width="0.5" stroke-linejoin="round"/>
<polygon points="424.30,514.80 425.09,516.91 427.34,517.01 425.58,518.42 426.18,520.59 424.30,519.35 422.42,520.59 423.02,518.42 421.26,517.01 423.51,516.91" fill="#111" stroke="#111" stroke-width="0.5" stroke-linejoin="round"/>
<path d="M424.40,566.00 V556.20 H456.40 V566.00" fill="none" stroke="#333" stroke-width="1.2"/>
<text x="0.00" y="-100.00" font-size="11.5" text-anchor="middle" fill="#222" >ns</text>
<text x="443.20" y="543.30" font-size="11.5" text-anchor="middle" fill="#222" >ns</text>
<text x="472.50" y="465.00" font-size="21.5" text-anchor="start" fill="#000" >h</text>
<line x1="516.30" y1="465.70" x2="516.30" y2="638.00" stroke="#333" stroke-width="1.3" />
<line x1="509.30" y1="637.50" x2="689.00" y2="637.50" stroke="#333" stroke-width="1.3" />
<line x1="509.30" y1="465.70" x2="516.30" y2="465.70" stroke="#333" stroke-width="1.3" />
<text x="506.80" y="470.30" font-size="11.5" text-anchor="end" fill="#222" >9</text>
<line x1="509.30" y1="500.06" x2="516.30" y2="500.06" stroke="#333" stroke-width="1.3" />
<text x="506.80" y="504.66" font-size="11.5" text-anchor="end" fill="#222" >8</text>
<line x1="509.30" y1="534.42" x2="516.30" y2="534.42" stroke="#333" stroke-width="1.3" />
<text x="506.80" y="539.02" font-size="11.5" text-anchor="end" fill="#222" >7</text>
<line x1="509.30" y1="568.78" x2="516.30" y2="568.78" stroke="#333" stroke-width="1.3" />
<text x="506.80" y="573.38" font-size="11.5" text-anchor="end" fill="#222" >6</text>
<line x1="509.30" y1="603.14" x2="516.30" y2="603.14" stroke="#333" stroke-width="1.3" />
<text x="506.80" y="607.74" font-size="11.5" text-anchor="end" fill="#222" >5</text>
<line x1="509.30" y1="637.50" x2="516.30" y2="637.50" stroke="#333" stroke-width="1.3" />
<text x="506.80" y="642.10" font-size="11.5" text-anchor="end" fill="#222" >4</text>
<line x1="542.70" y1="637.50" x2="542.70" y2="645.50" stroke="#222" stroke-width="1.3" />
<text x="540.20" y="658.30" font-size="11.7" text-anchor="middle" fill="#222" >Day 1</text>
<line x1="601.70" y1="637.50" x2="601.70" y2="645.50" stroke="#222" stroke-width="1.3" />
<text x="599.20" y="658.30" font-size="11.7" text-anchor="middle" fill="#222" >Day 14</text>
<line x1="660.70" y1="637.50" x2="660.70" y2="645.50" stroke="#222" stroke-width="1.3" />
<text x="658.20" y="658.30" font-size="11.7" text-anchor="middle" fill="#222" >Day 28</text>
<rect x="537.30" y="513.20" width="10.70" height="124.30" fill="#0b0b0b"/>
<line x1="542.65" y1="507.30" x2="542.65" y2="513.20" stroke="#111" stroke-width="1.2" />
<line x1="539.85" y1="507.30" x2="545.45" y2="507.30" stroke="#111" stroke-width="1.3" />
<rect x="580.60" y="563.70" width="10.70" height="73.80" fill="#0b0b0b"/>
<line x1="585.95" y1="558.30" x2="585.95" y2="563.70" stroke="#111" stroke-width="1.2" />
<line x1="583.15" y1="558.30" x2="588.75" y2="558.30" stroke="#111" stroke-width="1.3" />
<rect x="596.50" y="552.00" width="10.70" height="85.50" fill="#9f9f9f"/>
<line x1="601.85" y1="548.50" x2="601.85" y2="555.40" stroke="#111" stroke-width="1.2" />
<line x1="599.05" y1="548.50" x2="604.65" y2="548.50" stroke="#111" stroke-width="1.3" />
<line x1="599.05" y1="555.40" x2="604.65" y2="555.40" stroke="#111" stroke-width="1.3" />
<rect x="612.50" y="562.00" width="10.70" height="75.50" fill="#7f7f7f"/>
<line x1="617.85" y1="554.20" x2="617.85" y2="569.60" stroke="#111" stroke-width="1.2" />
<line x1="615.05" y1="554.20" x2="620.65" y2="554.20" stroke="#111" stroke-width="1.3" />
<line x1="615.05" y1="569.60" x2="620.65" y2="569.60" stroke="#111" stroke-width="1.3" />
<rect x="639.30" y="564.00" width="10.70" height="73.50" fill="#0b0b0b"/>
<line x1="644.65" y1="560.20" x2="644.65" y2="564.00" stroke="#111" stroke-width="1.2" />
<line x1="641.85" y1="560.20" x2="647.45" y2="560.20" stroke="#111" stroke-width="1.3" />
<rect x="655.50" y="565.80" width="10.70" height="71.70" fill="#9f9f9f"/>
<line x1="660.85" y1="556.80" x2="660.85" y2="574.40" stroke="#111" stroke-width="1.2" />
<line x1="658.05" y1="556.80" x2="663.65" y2="556.80" stroke="#111" stroke-width="1.3" />
<line x1="658.05" y1="574.40" x2="663.65" y2="574.40" stroke="#111" stroke-width="1.3" />
<rect x="671.50" y="571.00" width="10.70" height="66.50" fill="#7f7f7f"/>
<line x1="676.85" y1="565.20" x2="676.85" y2="576.50" stroke="#111" stroke-width="1.2" />
<line x1="674.05" y1="565.20" x2="679.65" y2="565.20" stroke="#111" stroke-width="1.3" />
<line x1="674.05" y1="576.50" x2="679.65" y2="576.50" stroke="#111" stroke-width="1.3" />
<text x="0" y="0" font-size="12.3" text-anchor="middle" fill="#222" transform="translate(497.50,560.50) rotate(-90)">log<tspan font-size="5" dy="-0.6" style="stroke-width:0">10</tspan><tspan dy="0.6">CFU/g in spleen</tspan></text>
<path d="M578.30,545.00 V538.10 H621.50 V545.00" fill="none" stroke="#333" stroke-width="1.2"/>
<text x="600.00" y="537.30" font-size="11.5" text-anchor="middle" fill="#222" >ns</text>
<path d="M638.20,545.00 V539.00 H683.10 V545.00" fill="none" stroke="#333" stroke-width="1.2"/>
<text x="660.00" y="537.30" font-size="11.5" text-anchor="middle" fill="#222" >ns</text>
<text x="318.00" y="23.00" font-size="21.5" text-anchor="start" fill="#000" >b</text>
<line x1="378.00" y1="3.20" x2="378.00" y2="172.70" stroke="#333" stroke-width="1.3" />
<line x1="370.00" y1="172.20" x2="649.20" y2="172.20" stroke="#333" stroke-width="1.3" />
<line x1="370.00" y1="3.20" x2="378.00" y2="3.20" stroke="#333" stroke-width="1.3" />
<text x="366.80" y="7.70" font-size="11.5" text-anchor="end" fill="#222" >22</text>
<line x1="370.00" y1="37.00" x2="378.00" y2="37.00" stroke="#333" stroke-width="1.3" />
<text x="366.80" y="41.50" font-size="11.5" text-anchor="end" fill="#222" >20</text>
<line x1="370.00" y1="70.80" x2="378.00" y2="70.80" stroke="#333" stroke-width="1.3" />
<text x="366.80" y="75.30" font-size="11.5" text-anchor="end" fill="#222" >18</text>
<line x1="370.00" y1="104.60" x2="378.00" y2="104.60" stroke="#333" stroke-width="1.3" />
<text x="366.80" y="109.10" font-size="11.5" text-anchor="end" fill="#222" >16</text>
<line x1="370.00" y1="138.40" x2="378.00" y2="138.40" stroke="#333" stroke-width="1.3" />
<text x="366.80" y="142.90" font-size="11.5" text-anchor="end" fill="#222" >14</text>
<line x1="370.00" y1="172.20" x2="378.00" y2="172.20" stroke="#333" stroke-width="1.3" />
<text x="366.80" y="176.70" font-size="11.5" text-anchor="end" fill="#222" >12</text>
<line x1="405.90" y1="172.20" x2="405.90" y2="179.70" stroke="#222" stroke-width="1.3" />
<text x="404.10" y="193.80" font-size="11.7" text-anchor="middle" fill="#222" >Day -7</text>
<line x1="448.40" y1="172.20" x2="448.40" y2="179.70" stroke="#222" stroke-width="1.3" />
<text x="446.60" y="193.80" font-size="11.7" text-anchor="middle" fill="#222" >Day 0</text>
<line x1="491.10" y1="172.20" x2="491.10" y2="179.70" stroke="#222" stroke-width="1.3" />
<text x="489.30" y="193.80" font-size="11.7" text-anchor="middle" fill="#222" >Day 7</text>
<line x1="533.70" y1="172.20" x2="533.70" y2="179.70" stroke="#222" stroke-width="1.3" />
<text x="531.90" y="193.80" font-size="11.7" text-anchor="middle" fill="#222" >Day 14</text>
<line x1="576.30" y1="172.20" x2="576.30" y2="179.70" stroke="#222" stroke-width="1.3" />
<text x="574.50" y="193.80" font-size="11.7" text-anchor="middle" fill="#222" >Day 21</text>
<line x1="618.70" y1="172.20" x2="618.70" y2="179.70" stroke="#222" stroke-width="1.3" />
<text x="616.90" y="193.80" font-size="11.7" text-anchor="middle" fill="#222" >Day 28</text>
<text x="0" y="0" font-size="12" text-anchor="middle" fill="#222" transform="translate(347.2,86.5) rotate(-90)">weight (g)</text>
<line x1="405.90" y1="61.50" x2="405.90" y2="85.90" stroke="#333" stroke-width="1.1" />
<line x1="403.30" y1="61.50" x2="408.50" y2="61.50" stroke="#222" stroke-width="1.2" />
<line x1="403.30" y1="85.90" x2="408.50" y2="85.90" stroke="#222" stroke-width="1.2" />
<line x1="448.40" y1="88.30" x2="448.40" y2="107.50" stroke="#333" stroke-width="1.1" />
<line x1="445.80" y1="88.30" x2="451.00" y2="88.30" stroke="#222" stroke-width="1.2" />
<line x1="445.80" y1="93.10" x2="451.00" y2="93.10" stroke="#222" stroke-width="1.2" />
<line x1="445.80" y1="107.50" x2="451.00" y2="107.50" stroke="#222" stroke-width="1.2" />
<line x1="491.10" y1="61.10" x2="491.10" y2="83.20" stroke="#333" stroke-width="1.1" />
<line x1="488.50" y1="61.10" x2="493.70" y2="61.10" stroke="#222" stroke-width="1.2" />
<line x1="488.50" y1="63.90" x2="493.70" y2="63.90" stroke="#222" stroke-width="1.2" />
<line x1="488.50" y1="83.20" x2="493.70" y2="83.20" stroke="#222" stroke-width="1.2" />
<line x1="533.70" y1="40.70" x2="533.70" y2="73.90" stroke="#333" stroke-width="1.1" />
<line x1="531.10" y1="40.70" x2="536.30" y2="40.70" stroke="#222" stroke-width="1.2" />
<line x1="531.10" y1="73.90" x2="536.30" y2="73.90" stroke="#222" stroke-width="1.2" />
<line x1="576.30" y1="28.10" x2="576.30" y2="66.90" stroke="#333" stroke-width="1.1" />
<line x1="573.70" y1="28.10" x2="578.90" y2="28.10" stroke="#222" stroke-width="1.2" />
<line x1="573.70" y1="33.20" x2="578.90" y2="33.20" stroke="#222" stroke-width="1.2" />
<line x1="573.70" y1="66.90" x2="578.90" y2="66.90" stroke="#222" stroke-width="1.2" />
<line x1="618.70" y1="20.50" x2="618.70" y2="54.80" stroke="#333" stroke-width="1.1" />
<line x1="616.10" y1="20.50" x2="621.30" y2="20.50" stroke="#222" stroke-width="1.2" />
<line x1="616.10" y1="25.10" x2="621.30" y2="25.10" stroke="#222" stroke-width="1.2" />
<line x1="616.10" y1="54.80" x2="621.30" y2="54.80" stroke="#222" stroke-width="1.2" />
<line x1="616.10" y1="54.80" x2="621.30" y2="54.80" stroke="#222" stroke-width="1.2" />
<polyline points="405.9,73.6 448.4,107.2 491.1,72.2 533.7,59.5 576.3,53.0 618.7,41.4" fill="none" stroke="#000" stroke-width="2.0" stroke-linejoin="round"/>
<polyline points="405.9,73.6 448.4,99.8 491.1,72.4 533.7,53.5 576.3,42.0 618.7,33.6" fill="none" stroke="#000" stroke-width="2.0" stroke-linejoin="round"/>
<polyline points="405.9,73.6 448.4,97.9 491.1,72.0 533.7,53.0 576.3,40.2 618.7,33.2" fill="none" stroke="#000" stroke-width="2.3" stroke-linejoin="round"/>
<circle cx="405.9" cy="73.6" r="3" fill="#000"/>
<circle cx="448.4" cy="97.9" r="3" fill="#000"/>
<circle cx="491.1" cy="72.0" r="3" fill="#000"/>
<circle cx="533.7" cy="53.0" r="3" fill="#000"/>
<circle cx="576.3" cy="40.2" r="3" fill="#000"/>
<circle cx="618.7" cy="33.2" r="3" fill="#000"/>
<rect x="402.90" y="70.60" width="6.00" height="6.00" fill="#000"/>
<rect x="445.40" y="104.20" width="6.00" height="6.00" fill="#000"/>
<rect x="488.10" y="69.20" width="6.00" height="6.00" fill="#000"/>
<rect x="530.70" y="56.50" width="6.00" height="6.00" fill="#000"/>
<rect x="573.30" y="50.00" width="6.00" height="6.00" fill="#000"/>
<rect x="615.70" y="38.40" width="6.00" height="6.00" fill="#000"/>
<path d="M402.7,76.1 L405.9,70.6 L409.1,76.1Z" fill="#000"/>
<path d="M445.2,102.3 L448.4,96.8 L451.6,102.3Z" fill="#000"/>
<path d="M487.9,74.9 L491.1,69.4 L494.3,74.9Z" fill="#000"/>
<path d="M530.5,56.0 L533.7,50.5 L536.9,56.0Z" fill="#000"/>
<path d="M573.1,44.5 L576.3,39.0 L579.5,44.5Z" fill="#000"/>
<path d="M615.5,36.1 L618.7,30.6 L621.9,36.1Z" fill="#000"/>
<line x1="381.00" y1="15.10" x2="400.70" y2="15.10" stroke="#000" stroke-width="2.0" />
<circle cx="390.7" cy="15.1" r="2.8" fill="#000"/>
<text x="410.70" y="20.10" font-size="11.5" text-anchor="start" fill="#222" >CON</text>
<line x1="381.00" y1="38.10" x2="400.70" y2="38.10" stroke="#000" stroke-width="2.0" />
<rect x="387.80" y="35.20" width="5.80" height="5.80" fill="#000"/>
<text x="410.70" y="43.10" font-size="11.5" text-anchor="start" fill="#222" >CAM</text>
<line x1="381.00" y1="61.10" x2="400.70" y2="61.10" stroke="#000" stroke-width="2.0" />
<path d="M387.6,63.4 L390.7,58.3 L393.8,63.4Z" fill="#000"/>
<text x="410.70" y="66.10" font-size="11.5" text-anchor="start" fill="#222" >AZM</text>
<text x="7.00" y="23.00" font-size="21.5" text-anchor="start" fill="#000" >a</text>
<rect x="90.10" y="89.40" width="206.60" height="4.70" fill="#000"/>
<rect x="90.10" y="80.90" width="4.50" height="13.20" fill="#000"/>
<rect x="156.70" y="80.90" width="4.50" height="13.20" fill="#000"/>
<rect x="224.40" y="80.90" width="4.50" height="13.20" fill="#000"/>
<rect x="292.20" y="80.90" width="4.50" height="13.20" fill="#000"/>
<text x="89.00" y="113.30" font-size="11.7" text-anchor="middle" fill="#111" >Day -7</text>
<text x="157.00" y="113.30" font-size="11.7" text-anchor="middle" fill="#111" >Day 0</text>
<text x="224.80" y="113.30" font-size="11.7" text-anchor="middle" fill="#111" >Day 14</text>
<text x="293.20" y="113.30" font-size="11.7" text-anchor="middle" fill="#111" >Day 28</text>

<g>
 <path d="M3,75.2 C5,73 8,72 11,72.3 C14,72.2 17,73 20.5,74 C26,74.8 31,76 35.5,80 C39.5,84 41,89 40.6,93 C40.3,96 39,97.6 36,98 L31,98.6 C28,98.5 25,98 22,97.6 L18,97 C16,95.5 14,93 12.5,90.5 C10,87 7.5,83.5 6,81.3 C4,79.5 2.6,77.5 3,75.2 Z" fill="#fdfcfc" stroke="#e0dcdc" stroke-width="1"/>
 <path d="M22,80 C27,82 30,88 31,94" fill="none" stroke="#efe9e9" stroke-width="1"/>
 <path d="M40.3,97.2 C45,98.6 50,99.2 55,98.8 C59.5,98.4 62.5,99 64,102 C65,104.5 65.2,108 65,111" fill="none" stroke="#d9c6c2" stroke-width="1.1"/>
 <ellipse cx="17.6" cy="76.3" rx="2.5" ry="3.5" fill="#d8b2a8"/>
 <circle cx="10.2" cy="77.3" r="0.9" fill="#555"/>
 <path d="M13.2,99 C15,97.2 19,97.4 20.3,99.5 C20,102 17.5,103 15,102.5 C13.5,102 12.8,100.5 13.2,99Z" fill="#dbb6aa"/>
 <path d="M24.4,99.5 C26.5,98 30.5,98.2 32.5,100 C32.2,102.4 29,103 26.5,102.7 C25,102.4 24.2,101 24.4,99.5Z" fill="#dbb6aa"/>
</g>
<line x1="150.2" y1="120" x2="150.2" y2="133" stroke="#8a8a8a" stroke-width="0.6"/>
<rect x="147.4" y="133" width="4.3" height="14.8" rx="1" fill="#a6b8de" stroke="#7a89aa" stroke-width="0.4"/>
<rect x="148.6" y="132.2" width="2" height="1.6" fill="#556"/>
<rect x="148.3" y="147.8" width="1.8" height="15.6" fill="#b0aaa6"/>
<rect x="145" y="152" width="10" height="1" fill="#e8dcd6"/>
<rect x="146.3" y="162.5" width="4.5" height="1.5" fill="#b8b0aa"/>
<g transform="translate(163.8,120.8)"><path d="M5.8,1.5 C3.5,2 1.2,5 0.6,8.5 C0.1,11.5 0.8,13.2 3.2,13.2 C5.2,13 6.2,12 6.2,9 Z" fill="#e59c8c" stroke="#d98a7a" stroke-width="0.4"/><path d="M7.2,1.5 C9.5,2 11.8,5 12.4,8.5 C12.9,11.5 12.2,13.2 9.8,13.2 C7.8,13 6.8,12 6.8,9 Z" fill="#e59c8c" stroke="#d98a7a" stroke-width="0.4"/><line x1="6.5" y1="0" x2="6.5" y2="10" stroke="#f0d8cc" stroke-width="1.1"/></g>
<g transform="translate(185.2,120.5)"><path d="M2.8,0.8 C6,1.2 7.3,5.5 6.6,9.5 C6,12.6 3.5,13.8 0.8,13 C0.3,12 1.8,10.5 1.8,8 C1.8,5.5 1,3.5 1.4,1.8 C1.6,1 2.2,0.8 2.8,0.8 Z" fill="#d98471" stroke="#c9735f" stroke-width="0.4"/></g>
<g transform="translate(212.2,120.8)"><path d="M5.8,1.5 C3.5,2 1.2,5 0.6,8.5 C0.1,11.5 0.8,13.2 3.2,13.2 C5.2,13 6.2,12 6.2,9 Z" fill="#e59c8c" stroke="#d98a7a" stroke-width="0.4"/><path d="M7.2,1.5 C9.5,2 11.8,5 12.4,8.5 C12.9,11.5 12.2,13.2 9.8,13.2 C7.8,13 6.8,12 6.8,9 Z" fill="#e59c8c" stroke="#d98a7a" stroke-width="0.4"/><line x1="6.5" y1="0" x2="6.5" y2="10" stroke="#f0d8cc" stroke-width="1.1"/></g>
<g transform="translate(233.6,120.5)"><path d="M2.8,0.8 C6,1.2 7.3,5.5 6.6,9.5 C6,12.6 3.5,13.8 0.8,13 C0.3,12 1.8,10.5 1.8,8 C1.8,5.5 1,3.5 1.4,1.8 C1.6,1 2.2,0.8 2.8,0.8 Z" fill="#d98471" stroke="#c9735f" stroke-width="0.4"/></g>
<g transform="translate(274.2,120.8)"><path d="M5.8,1.5 C3.5,2 1.2,5 0.6,8.5 C0.1,11.5 0.8,13.2 3.2,13.2 C5.2,13 6.2,12 6.2,9 Z" fill="#e59c8c" stroke="#d98a7a" stroke-width="0.4"/><path d="M7.2,1.5 C9.5,2 11.8,5 12.4,8.5 C12.9,11.5 12.2,13.2 9.8,13.2 C7.8,13 6.8,12 6.8,9 Z" fill="#e59c8c" stroke="#d98a7a" stroke-width="0.4"/><line x1="6.5" y1="0" x2="6.5" y2="10" stroke="#f0d8cc" stroke-width="1.1"/></g>
<g transform="translate(295.6,120.5)"><path d="M2.8,0.8 C6,1.2 7.3,5.5 6.6,9.5 C6,12.6 3.5,13.8 0.8,13 C0.3,12 1.8,10.5 1.8,8 C1.8,5.5 1,3.5 1.4,1.8 C1.6,1 2.2,0.8 2.8,0.8 Z" fill="#d98471" stroke="#c9735f" stroke-width="0.4"/></g>
</svg></body></html>
